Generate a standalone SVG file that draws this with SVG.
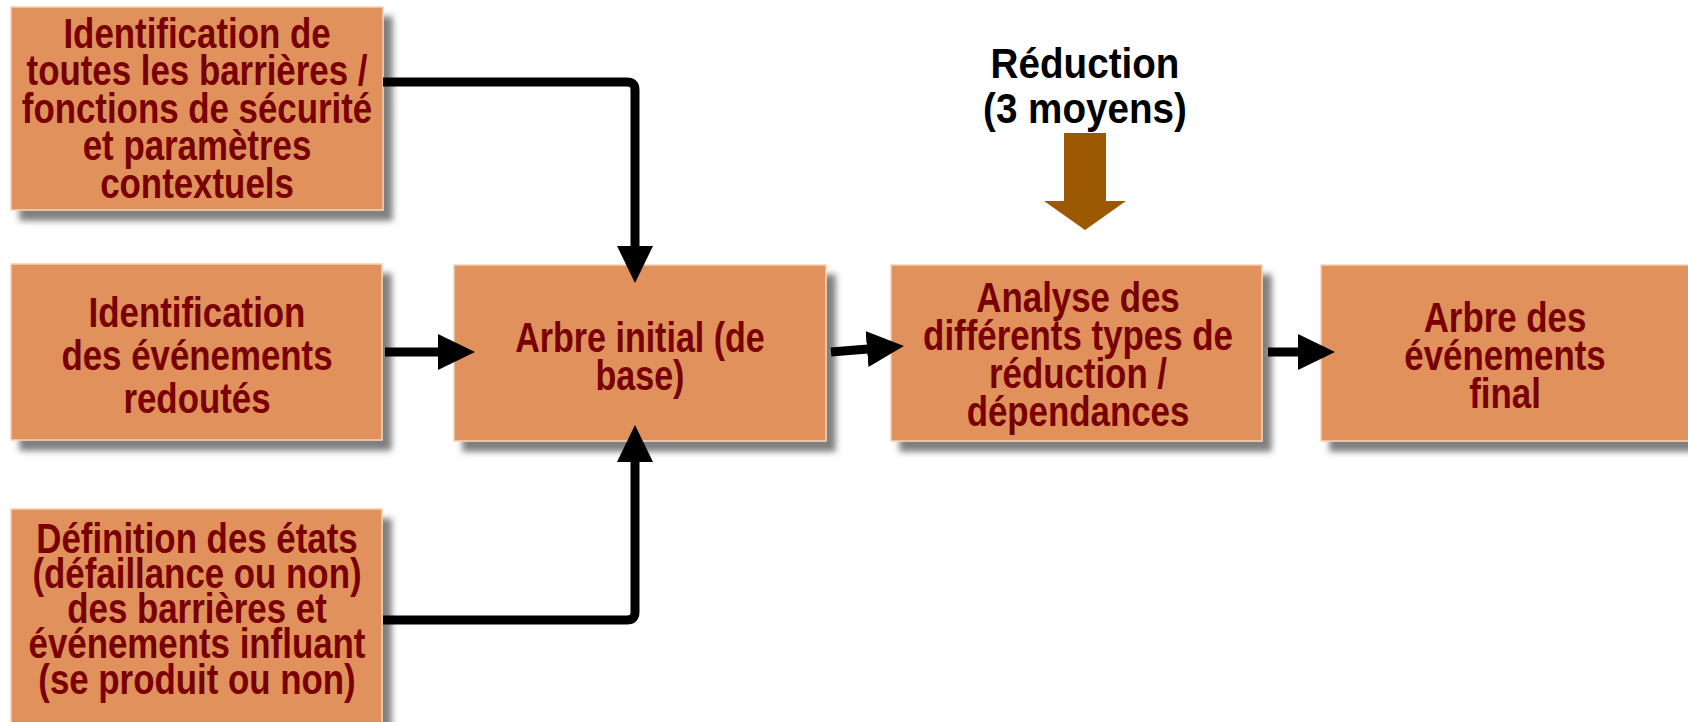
<svg xmlns="http://www.w3.org/2000/svg" width="1688" height="722" viewBox="0 0 1688 722">
  <style>
    .box { fill: #e1915b; stroke: #f3d2b6; stroke-width: 1.5; filter: url(#shadow); }
    .lbl { font-family: "Liberation Sans", Arial, sans-serif; font-weight: bold; font-size: 42px; fill: #780000; text-anchor: middle; }
    .title { font-family: "Liberation Sans", Arial, sans-serif; font-weight: bold; font-size: 42px; fill: #000; text-anchor: middle; }
    .conn { fill: none; stroke: #000; stroke-width: 9; stroke-linejoin: round; }
  </style>
  <defs>
    <filter id="shadow" x="-10%" y="-10%" width="130%" height="130%">
      <feGaussianBlur in="SourceAlpha" stdDeviation="3"/>
      <feOffset dx="9" dy="10" result="off"/>
      <feFlood flood-color="#555" flood-opacity="0.75"/>
      <feComposite in2="off" operator="in"/>
      <feMerge>
        <feMergeNode/>
        <feMergeNode in="SourceGraphic"/>
      </feMerge>
    </filter>
    <marker id="head" markerUnits="userSpaceOnUse" markerWidth="40" markerHeight="40" refX="1" refY="18" orient="auto">
      <path d="M0,0 L37,18 L0,36 Z" fill="#000"/>
    </marker>
  </defs>

  <rect width="1688" height="722" fill="#fff"/>

  <g id="reduction">
    <text class="title" transform="translate(1085,0) scale(0.92,1)"><tspan x="0" y="78">Réduction</tspan><tspan x="0" y="123">(3 moyens)</tspan></text>
  </g>

  <g id="n-barrieres">
    <rect class="box" x="11" y="7" width="372" height="203"/>
    <text class="lbl" transform="translate(197,0) scale(0.83,1)"><tspan x="0" y="48">Identification de</tspan><tspan x="0" y="85.5">toutes les barrières /</tspan><tspan x="0" y="123">fonctions de sécurité</tspan><tspan x="0" y="160.5">et paramètres</tspan><tspan x="0" y="198">contextuels</tspan></text>
  </g>

  <g id="n-evenements">
    <rect class="box" x="11" y="264" width="371" height="176"/>
    <text class="lbl" transform="translate(197,0) scale(0.83,1)"><tspan x="0" y="327">Identification</tspan><tspan x="0" y="370">des événements</tspan><tspan x="0" y="413">redoutés</tspan></text>
  </g>

  <g id="n-etats">
    <rect class="box" x="11" y="509" width="371" height="230"/>
    <text class="lbl" transform="translate(197,0) scale(0.83,1)"><tspan x="0" y="553">Définition des états</tspan><tspan x="0" y="588">(défaillance ou non)</tspan><tspan x="0" y="623">des barrières et</tspan><tspan x="0" y="658">événements influant</tspan><tspan x="0" y="694">(se produit ou non)</tspan></text>
  </g>

  <g id="n-arbre-initial">
    <rect class="box" x="454" y="265" width="372" height="176"/>
    <text class="lbl" transform="translate(640,0) scale(0.81,1)"><tspan x="0" y="352">Arbre initial (de</tspan><tspan x="0" y="390">base)</tspan></text>
  </g>

  <g id="n-analyse">
    <rect class="box" x="891" y="265" width="371" height="176"/>
    <text class="lbl" transform="translate(1078,0) scale(0.83,1)"><tspan x="0" y="312">Analyse des</tspan><tspan x="0" y="350">différents types de</tspan><tspan x="0" y="388">réduction /</tspan><tspan x="0" y="426">dépendances</tspan></text>
  </g>

  <g id="n-arbre-final">
    <rect class="box" x="1321" y="265" width="380" height="176"/>
    <text class="lbl" transform="translate(1505,0) scale(0.83,1)"><tspan x="0" y="332">Arbre des</tspan><tspan x="0" y="370">événements</tspan><tspan x="0" y="408">final</tspan></text>
  </g>

  <!-- connectors, drawn last so the arrowheads sit over the box edges -->
  <g id="connectors">
    <path class="conn" d="M383,82 H627 Q635,82 635,90 V247" marker-end="url(#head)"/>
    <path class="conn" d="M383,620 H627 Q635,620 635,612 V461" marker-end="url(#head)"/>
    <path class="conn" d="M385,352 H439" marker-end="url(#head)"/>
    <path class="conn" d="M831,352 L868,349" marker-end="url(#head)"/>
    <path class="conn" d="M1268,352 H1299" marker-end="url(#head)"/>
    <polygon points="1064,133 1106,133 1106,201 1126,201 1085,230 1044,201 1064,201" fill="#9c5800"/>
  </g>
</svg>
